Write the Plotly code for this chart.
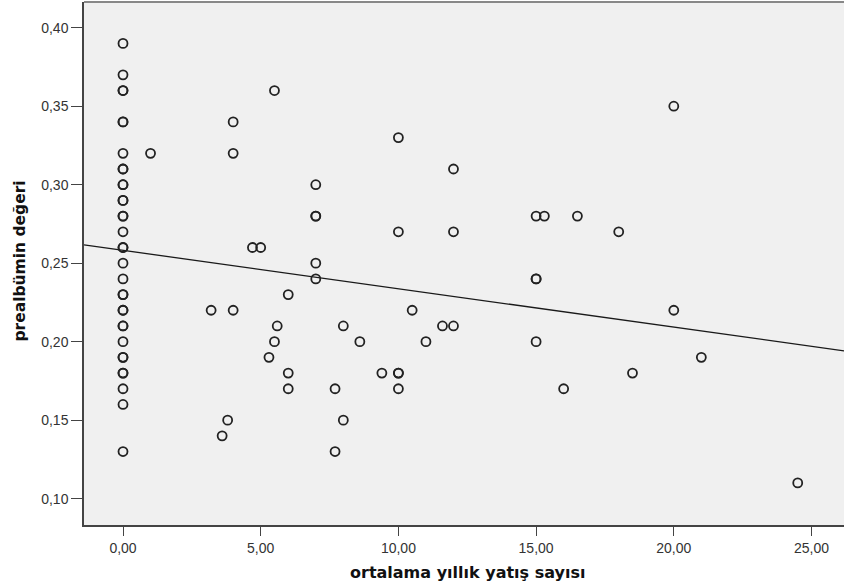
import numpy as np
import plotly.graph_objects as go

# x = ortalama yıllık yatış sayısı, y = prealbümin değeri
x_vals = [0]*34 + [
    1.0, 3.2, 3.6, 3.8, 4.0, 4.0, 4.0, 4.7, 5.0, 5.3, 5.5, 5.5, 5.6, 6.0, 6.0, 6.0,
    7.0, 7.0, 7.0, 7.0, 7.0, 7.7, 7.7, 8.0, 8.0, 8.6, 9.4,
    10.0, 10.0, 10.0, 10.0, 10.0, 10.5, 11.0, 11.6, 12.0, 12.0, 12.0,
    15.0, 15.3, 15.0, 15.0, 15.0, 16.0, 16.5, 18.0, 18.5, 20.0, 20.0, 21.0, 24.5]
y_vals = [0.39, 0.37, 0.36, 0.36, 0.34, 0.34, 0.32, 0.31, 0.31, 0.30, 0.30, 0.29, 0.29,
          0.28, 0.28, 0.27, 0.26, 0.26, 0.25, 0.24, 0.23, 0.23, 0.22, 0.22, 0.21, 0.21,
          0.20, 0.19, 0.19, 0.18, 0.18, 0.17, 0.16, 0.13] + [
    0.32, 0.22, 0.14, 0.15, 0.34, 0.32, 0.22, 0.26, 0.26, 0.19, 0.36, 0.20, 0.21, 0.23, 0.18, 0.17,
    0.30, 0.28, 0.28, 0.25, 0.24, 0.17, 0.13, 0.21, 0.15, 0.20, 0.18,
    0.33, 0.27, 0.18, 0.18, 0.17, 0.22, 0.20, 0.21, 0.21, 0.31, 0.27,
    0.28, 0.28, 0.24, 0.24, 0.20, 0.17, 0.28, 0.27, 0.18, 0.35, 0.22, 0.19, 0.11]

# Fit line
fit_intercept = 0.2582
fit_slope = -0.002447

x_range = [-1.416, 26.18]
y_range = [0.0832, 0.4164]
x_ticks = [0, 5, 10, 15, 20, 25]
y_ticks = [0.10, 0.15, 0.20, 0.25, 0.30, 0.35, 0.40]

line_x = np.array(x_range)
line_y = fit_intercept + fit_slope * line_x

fig = go.Figure()
fig.add_trace(go.Scatter(x=line_x, y=line_y, mode="lines",
                         line=dict(color="#1a1a1a", width=1.3), showlegend=False,
                         hoverinfo="skip"))
fig.add_trace(go.Scatter(x=x_vals, y=y_vals, mode="markers",
                         marker=dict(symbol="circle-open", size=9,
                                     color="#222222", line=dict(width=1.8, color="#222222")),
                         showlegend=False))

fig.update_layout(
    width=844, height=587,
    margin=dict(l=84, r=0, t=2, b=62),
    paper_bgcolor="white", plot_bgcolor="#F0F0F0",
    separators=",.",
    font=dict(family="Liberation Sans, Arial, sans-serif", size=14, color="#333333"),
    xaxis=dict(range=x_range, tickvals=x_ticks, tickformat=".2f", showgrid=False,
               zeroline=False, showline=True, linecolor="#444444", linewidth=1.5,
               ticks="outside", ticklen=9, tickwidth=1.3, tickcolor="#444444",
               tickfont=dict(size=14, color="#333333")),
    yaxis=dict(range=y_range, tickvals=y_ticks, tickformat=".2f", showgrid=False,
               zeroline=False, showline=True, linecolor="#444444", linewidth=1.5,
               ticks="outside", ticklen=11, tickwidth=1.3, tickcolor="#444444",
               tickfont=dict(size=14, color="#333333")),
    shapes=[dict(type="line", xref="paper", yref="paper", x0=0, x1=1, y0=1, y1=1,
                 line=dict(color="#888888", width=2))],
    annotations=[
        dict(text="ortalama yıllık yatış sayısı", xref="paper", yref="paper",
             x=0.505, y=-0.091, xanchor="center", yanchor="middle", showarrow=False,
             font=dict(family="DejaVu Sans", size=16, color="#111111", weight="bold")),
        dict(text="prealbümin değeri", xref="paper", yref="paper",
             x=-0.084, y=0.504, textangle=-90, xanchor="center", yanchor="middle",
             showarrow=False,
             font=dict(family="DejaVu Sans", size=15.5, color="#111111", weight="bold")),
    ],
)

fig.write_html("out.html")
